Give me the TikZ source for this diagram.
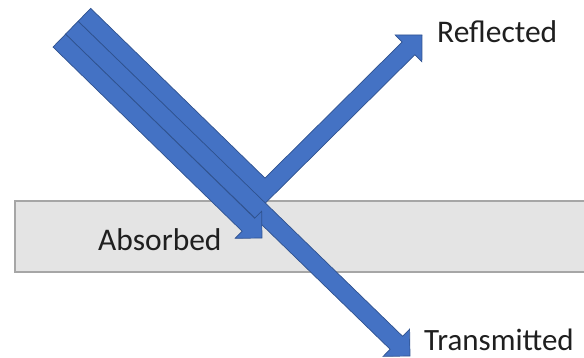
\documentclass[tikz,border=0pt]{standalone}
\usepackage{fontspec}
\setmainfont{Carlito}
\usetikzlibrary{calc}
\definecolor{beam}{HTML}{4472C4}
\definecolor{beamline}{HTML}{2F528F}
\definecolor{slabfill}{HTML}{E4E4E4}
\definecolor{slabline}{HTML}{A6A6A6}
\tikzset{
  beamshape/.style={fill=beam, draw=beamline, line width=0.7pt, line join=miter},
  slabshape/.style={fill=slabfill, draw=slabline, line width=2.5pt},
  lbl/.style={anchor=base west, inner sep=0pt, text=black!88, font=\fontsize{31.5}{37}\selectfont}
}
\begin{document}
\begin{tikzpicture}[x=1pt,y=-1pt]
\useasboundingbox (0,0) rectangle (584,358);
% slab
\draw[slabshape] (15,201) rectangle (600,272);

% key points
\coordinate (Sa) at (59.3,40.6);
\coordinate (Ta) at (262,238);
\coordinate (St) at (71.8,27.7);
\coordinate (Tt) at (410,356);
\coordinate (Sr) at (84.4,14.8);
\coordinate (Cr) at (265,190.7);
\coordinate (Tr) at (422,35);

% reflected (bent arrow)
\coordinate (Hr) at ($(Tr)!19pt!(Cr)$);
\coordinate (r1) at ($(Sr)!9pt!90:(Cr)$);
\coordinate (r2) at ($(Cr)!9pt!-90:(Sr)$);
\coordinate (r3) at ($(Cr)!9pt!90:(Tr)$);
\coordinate (r4) at ($(Hr)!9pt!-90:(Cr)$);
\coordinate (rin) at (intersection of r1--r2 and r3--r4);
\coordinate (q1) at ($(Sr)!9pt!-90:(Cr)$);
\coordinate (q2) at ($(Cr)!9pt!90:(Sr)$);
\coordinate (q3) at ($(Cr)!9pt!-90:(Tr)$);
\coordinate (q4) at ($(Hr)!9pt!90:(Cr)$);
\coordinate (rout) at (intersection of q1--q2 and q3--q4);
\draw[beamshape] (r1) -- (rin) -- (r4) -- ($(Hr)!19pt!-90:(Cr)$) -- (Tr)
  -- ($(Hr)!19pt!90:(Cr)$) -- (q4) -- (rout) -- (q1) -- cycle;

% transmitted
\coordinate (Ht) at ($(Tt)!19pt!(St)$);
\draw[beamshape] ($(St)!9pt!90:(Tt)$) -- ($(Ht)!9pt!-90:(St)$) -- ($(Ht)!19pt!-90:(St)$)
  -- (Tt) -- ($(Ht)!19pt!90:(St)$) -- ($(Ht)!9pt!90:(St)$) -- ($(St)!9pt!-90:(Tt)$) -- cycle;

% absorbed
\coordinate (Ha) at ($(Ta)!19pt!(Sa)$);
\draw[beamshape] ($(Sa)!9pt!90:(Ta)$) -- ($(Ha)!9pt!-90:(Sa)$) -- ($(Ha)!19pt!-90:(Sa)$)
  -- (Ta) -- ($(Ha)!19pt!90:(Sa)$) -- ($(Ha)!9pt!90:(Sa)$) -- ($(Sa)!9pt!-90:(Ta)$) -- cycle;

% labels
\node[lbl] (reflected) at (437,43) {Reflected};
\node[lbl] (absorbed) at (98,251) {Absorbed};
\node[lbl, font=\fontsize{31}{37}\selectfont] (transmitted) at (424,350) {Transmitted};
\end{tikzpicture}
\end{document}
